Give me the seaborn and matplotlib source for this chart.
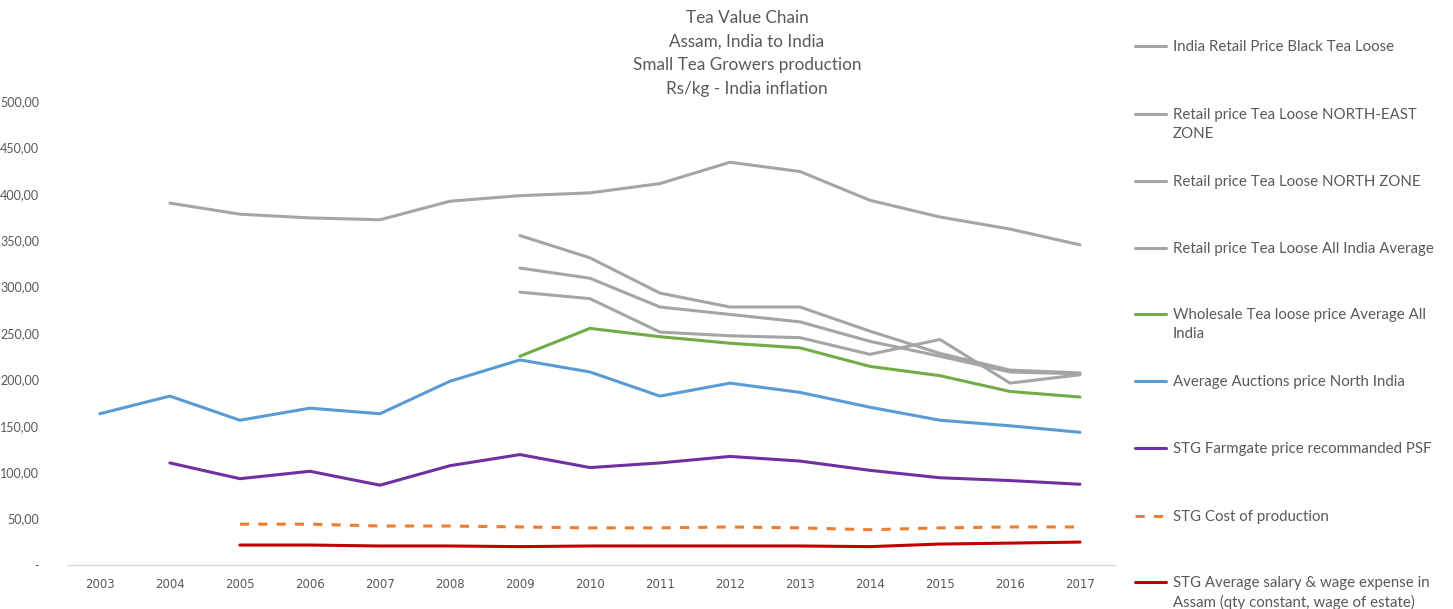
import matplotlib
matplotlib.use('Agg')
import matplotlib.pyplot as plt
import numpy as np
import pandas as pd
import seaborn as sns
from matplotlib.lines import Line2D

years = list(range(2003, 2018))
nan = np.nan

black_tea_loose = [nan, 390, 378, 374, 372, 392, 398, 401, 411, 434, 424, 393, 375, 362, 345]
ne_zone = [nan, nan, nan, nan, nan, nan, 355, 331, 293, 278, 278, 252, 228, 210, 207]
north_zone = [nan, nan, nan, nan, nan, nan, 320, 309, 278, 270, 262, 241, 225, 208, 206]
all_india_avg = [nan, nan, nan, nan, nan, nan, 294, 287, 251, 247, 245, 227, 243, 196, 205]
wholesale = [nan, nan, nan, nan, nan, nan, 225, 255, 246, 239, 234, 214, 204, 187, 181]
auctions = [163, 182, 156, 169, 163, 198, 221, 208, 182, 196, 186, 170, 156, 150, 143]
farmgate = [nan, 110, 93, 101, 86, 107, 119, 105, 110, 117, 112, 102, 94, 91, 87]
cost_prod = [nan, nan, 44, 44, 42, 42, 41, 40, 40, 41, 40, 38, 40, 41, 41]
wage = [nan, nan, 21.5, 21.5, 20.5, 20.5, 19.8, 20.5, 20.5, 20.5, 20.5, 19.8, 22.6, 23.6, 24.7]

series_names = [
    'India Retail Price Black Tea Loose',
    'Retail price Tea Loose NORTH-EAST\nZONE',
    'Retail price Tea Loose NORTH ZONE',
    'Retail price Tea Loose All India Average',
    'Wholesale Tea loose price Average All\nIndia',
    'Average Auctions price North India',
    'STG Farmgate price recommanded PSF',
    'STG Cost of production',
    'STG Average salary & wage expense in\nAssam (qty constant, wage of estate)',
]
series_values = [black_tea_loose, ne_zone, north_zone, all_india_avg, wholesale,
                 auctions, farmgate, cost_prod, wage]
colors = ['#A5A5A5', '#A5A5A5', '#A5A5A5', '#A5A5A5', '#70AD47',
          '#5B9BD5', '#7030A0', '#ED7D31', '#C00000']

rows = []
for name, vals in zip(series_names, series_values):
    for y, v in zip(years, vals):
        rows.append({'year': y, 'value': v, 'series': name})
df = pd.DataFrame(rows).dropna()

palette = dict(zip(series_names, colors))
dashes = {n: '' for n in series_names}
dashes['STG Cost of production'] = (3, 3)

sns.set_style('white')
plt.rcParams['font.family'] = ['Lato', 'DejaVu Sans']

fig = plt.figure(figsize=(14.53, 6.09), dpi=100)
ax = fig.add_axes([67 / 1453, 1 - 565 / 609, (1115 - 67) / 1453, (565 - 101) / 609])

sns.lineplot(data=df, x='year', y='value', hue='series', style='series',
             palette=palette, dashes=dashes, linewidth=2.2, legend=False,
             sort=True, ax=ax)

ax.set_xlim(2002.53, 2017.5)
ax.set_ylim(0, 500)
ax.set_xticks(years)
ax.set_xticklabels([str(y) for y in years], fontsize=8.5, color='#595959',
                   family=['Liberation Sans Narrow', 'DejaVu Sans'])
yt = np.arange(0, 501, 50)
ax.set_yticks(yt)
ax.set_yticklabels(['-' if v == 0 else f'{v:.2f}'.replace('.', ',') for v in yt],
                   fontsize=9, color='#595959')
ax.tick_params(axis='y', length=0, pad=20)
ax.tick_params(axis='x', length=0, pad=9)
ax.set_xlabel('')
ax.set_ylabel('')
for s in ['top', 'right', 'left']:
    ax.spines[s].set_visible(False)
ax.spines['bottom'].set_color('#D9D9D9')
ax.spines['bottom'].set_linewidth(1)

title = 'Tea Value Chain\nAssam, India to India\nSmall Tea Growers production\nRs/kg - India inflation'
fig.text(747 / 1453, 1 - 10 / 609, title, ha='center', va='top', fontsize=12.3,
         color='#595959', linespacing=1.58)

# legend drawn by hand to keep Excel's spacing
leg_y = [46, 114, 181, 248, 314, 381, 448, 516, 582]
for name, col, yy in zip(series_names, colors, leg_y):
    yf = 1 - yy / 609
    ls = (0, (3, 3)) if name == 'STG Cost of production' else '-'
    fig.add_artist(Line2D([1135 / 1453, 1166 / 1453], [yf, yf], color=col,
                          lw=2.2, ls=ls, transform=fig.transFigure))
    fig.text(1173 / 1453, yf + 6 / 609, name, ha='left', va='top', fontsize=10.8,
             color='#595959', linespacing=1.45)

fig.savefig('out.png', dpi=100)
